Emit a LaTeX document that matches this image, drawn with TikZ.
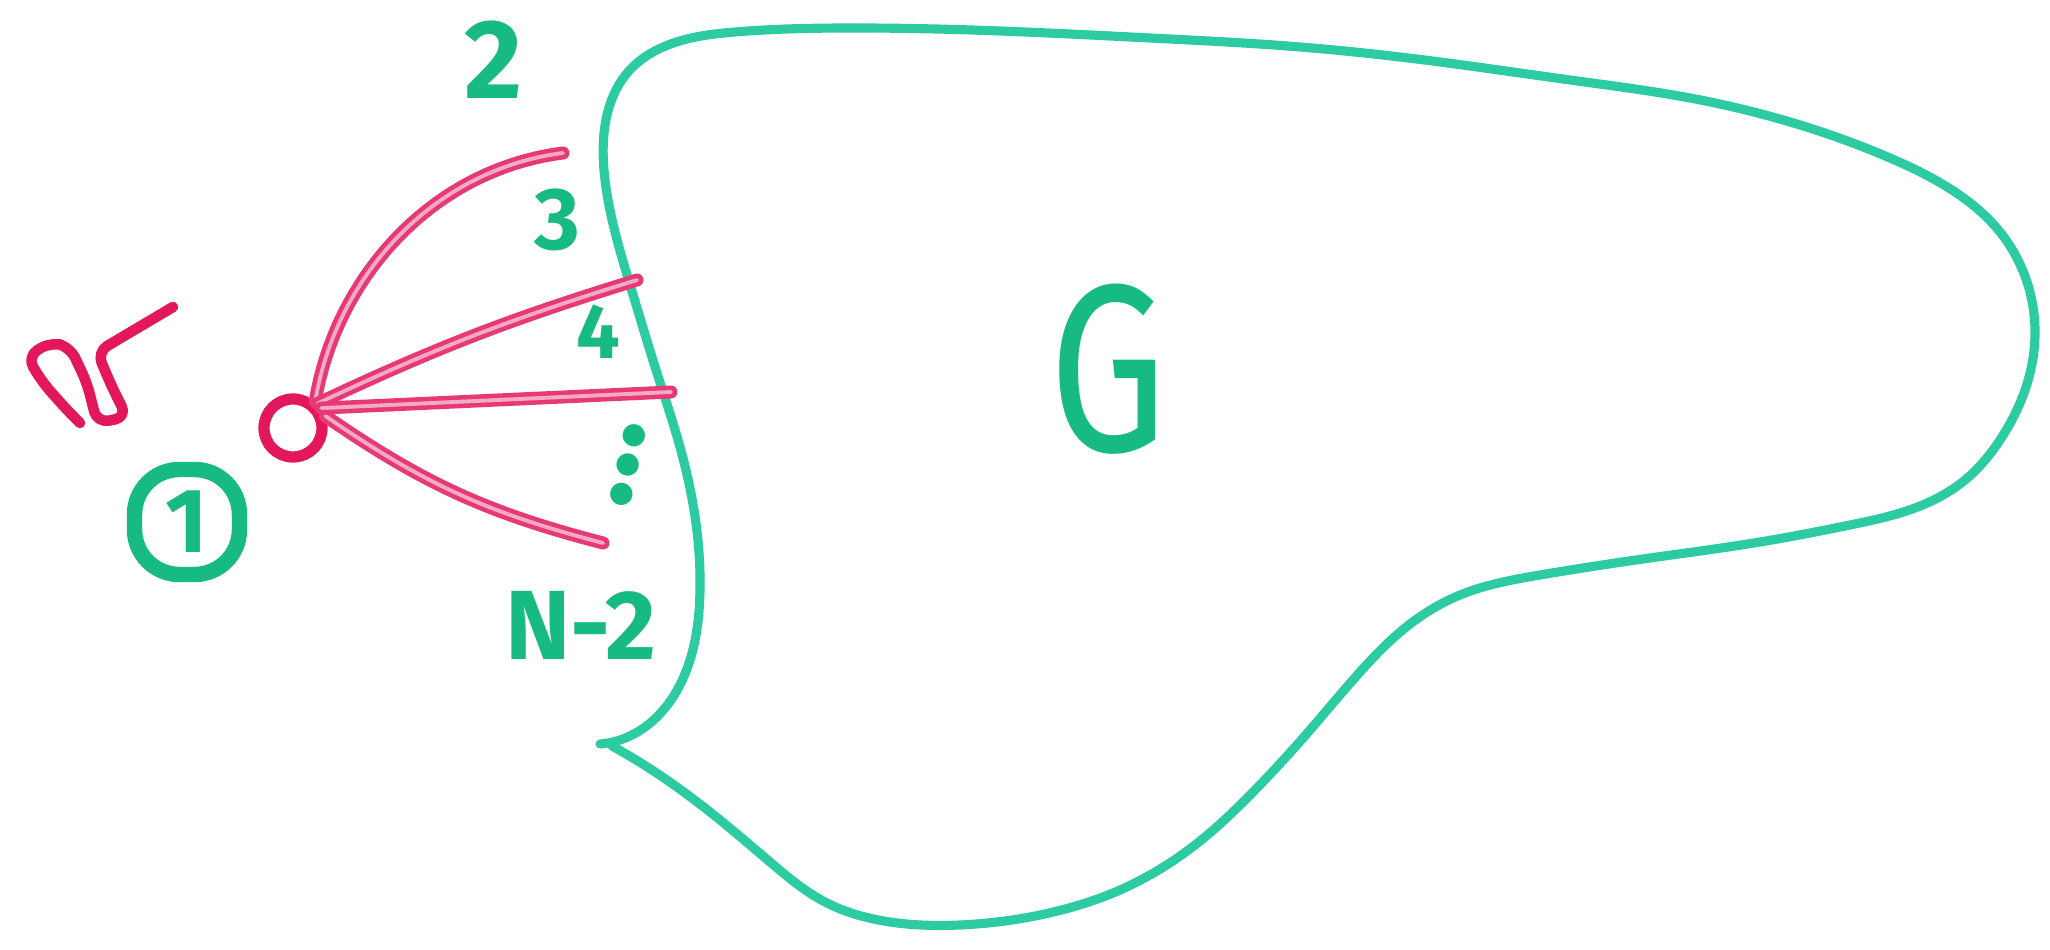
\documentclass[tikz,border=0pt]{standalone}
\usepackage{fontspec}
\setmainfont{Fira Sans}
\usetikzlibrary{positioning,hobby}
\definecolor{blobteal}{HTML}{2CCBA2}
\definecolor{labgreen}{HTML}{17BA80}
\definecolor{markred}{HTML}{E3175C}
\definecolor{markpink}{HTML}{F4A9C6}
\tikzset{
  outline/.style={draw=blobteal,line width=2.6pt,line cap=round,line join=round},
  vertex/.style={circle,draw=markred,line width=3.2pt,minimum size=5.8mm,inner sep=0pt},
  spoke/.style={draw=markred!85!white,line width=1.3pt,double=markpink,double distance=1.1pt,line cap=round},
  lab/.style={text=labgreen,font=\bfseries\fontsize{22}{22}\selectfont,inner sep=0pt},
  ringlab/.style={lab,draw=labgreen,line width=4.4pt,rounded corners=4.5mm,minimum width=10.5mm,minimum height=10.5mm}
}
\begin{document}
\begin{tikzpicture}[x=0.1mm,y=-0.1mm]
    \useasboundingbox (0,0) rectangle (2050,950);
    % the graph G
    \draw[outline,use Hobby shortcut] (600,744) .. (630,736) .. (665,708) .. (690,660)
      .. (700,590) .. (694,510) .. (678,440) .. (656,370) .. (634,298) .. (615,232)
      .. (604,170) .. (607,115) .. (628,72) .. (668,45) .. (735,32) .. (850,28)
      .. (1000,31) .. (1150,38) .. (1300,47) .. (1440,62) .. (1570,80) .. (1690,98)
      .. (1800,125) .. (1890,158) .. (1955,192) .. (2000,232) .. (2027,282)
      .. (2035,335) .. (2025,390) .. (2000,440) .. (1965,480) .. (1915,508)
      .. (1850,525) .. (1760,542) .. (1650,558) .. (1540,575) .. (1460,595)
      .. (1405,628) .. (1360,672) .. (1310,730) .. (1255,790) .. (1195,845)
      .. (1120,890) .. (1040,915) .. (960,925) .. (890,922) .. (825,902)
      .. (770,862) .. (710,812) .. (655,772) .. (612,746);
    \node[text=labgreen,font=\fontsize{68}{68}\selectfont,inner sep=0pt] (g) at (1108,369) {\scalebox{0.78}[1]{G}};
    % vertex 1 and its spokes
    \node[vertex] (v1) at (293,428) {};
    \coordinate (p2) at (563,153);
    \coordinate (p3) at (637,280);
    \coordinate (p4) at (671,392);
    \coordinate (pn) at (603,543);
    \draw[spoke] (v1.50) .. controls (335,280) and (430,170) .. (p2);
    \draw[spoke] (v1.45) to[bend left=4] (p3);
    \draw[spoke] (v1.35) -- (p4);
    \draw[spoke] (v1.20) to[bend right=10] (pn);
    \draw[markred,line width=3pt,line cap=round,line join=round,rounded corners=1.2mm]
      (173,307) -- (97,352) -- (112,387) -- (127,417) -- (97,423) -- (87,383)
      -- (70,347) -- (50,342) -- (27,357) -- (43,383) -- (67,410) -- (80,423);
    % labels
    \node[ringlab,font=\bfseries\fontsize{26}{26}\selectfont] (one) at (187,522) {1};
    \node[lab,font=\bfseries\fontsize{32}{32}\selectfont] (l2) at (494,60) {2};
    \node[lab,font=\bfseries\fontsize{25}{25}\selectfont] (l3) at (557,220) {3};
    \node[lab] (l4) at (598,332) {4};
    \node[lab,font=\bfseries\fontsize{35}{35}\selectfont,rotate=-102,text height=1.6mm,text depth=0pt] (ldots) at (627,465) {…};
    \node[lab,font=\bfseries\fontsize{28}{28}\selectfont] (ln) at (581,625) {N-2};
\end{tikzpicture}
\end{document}
